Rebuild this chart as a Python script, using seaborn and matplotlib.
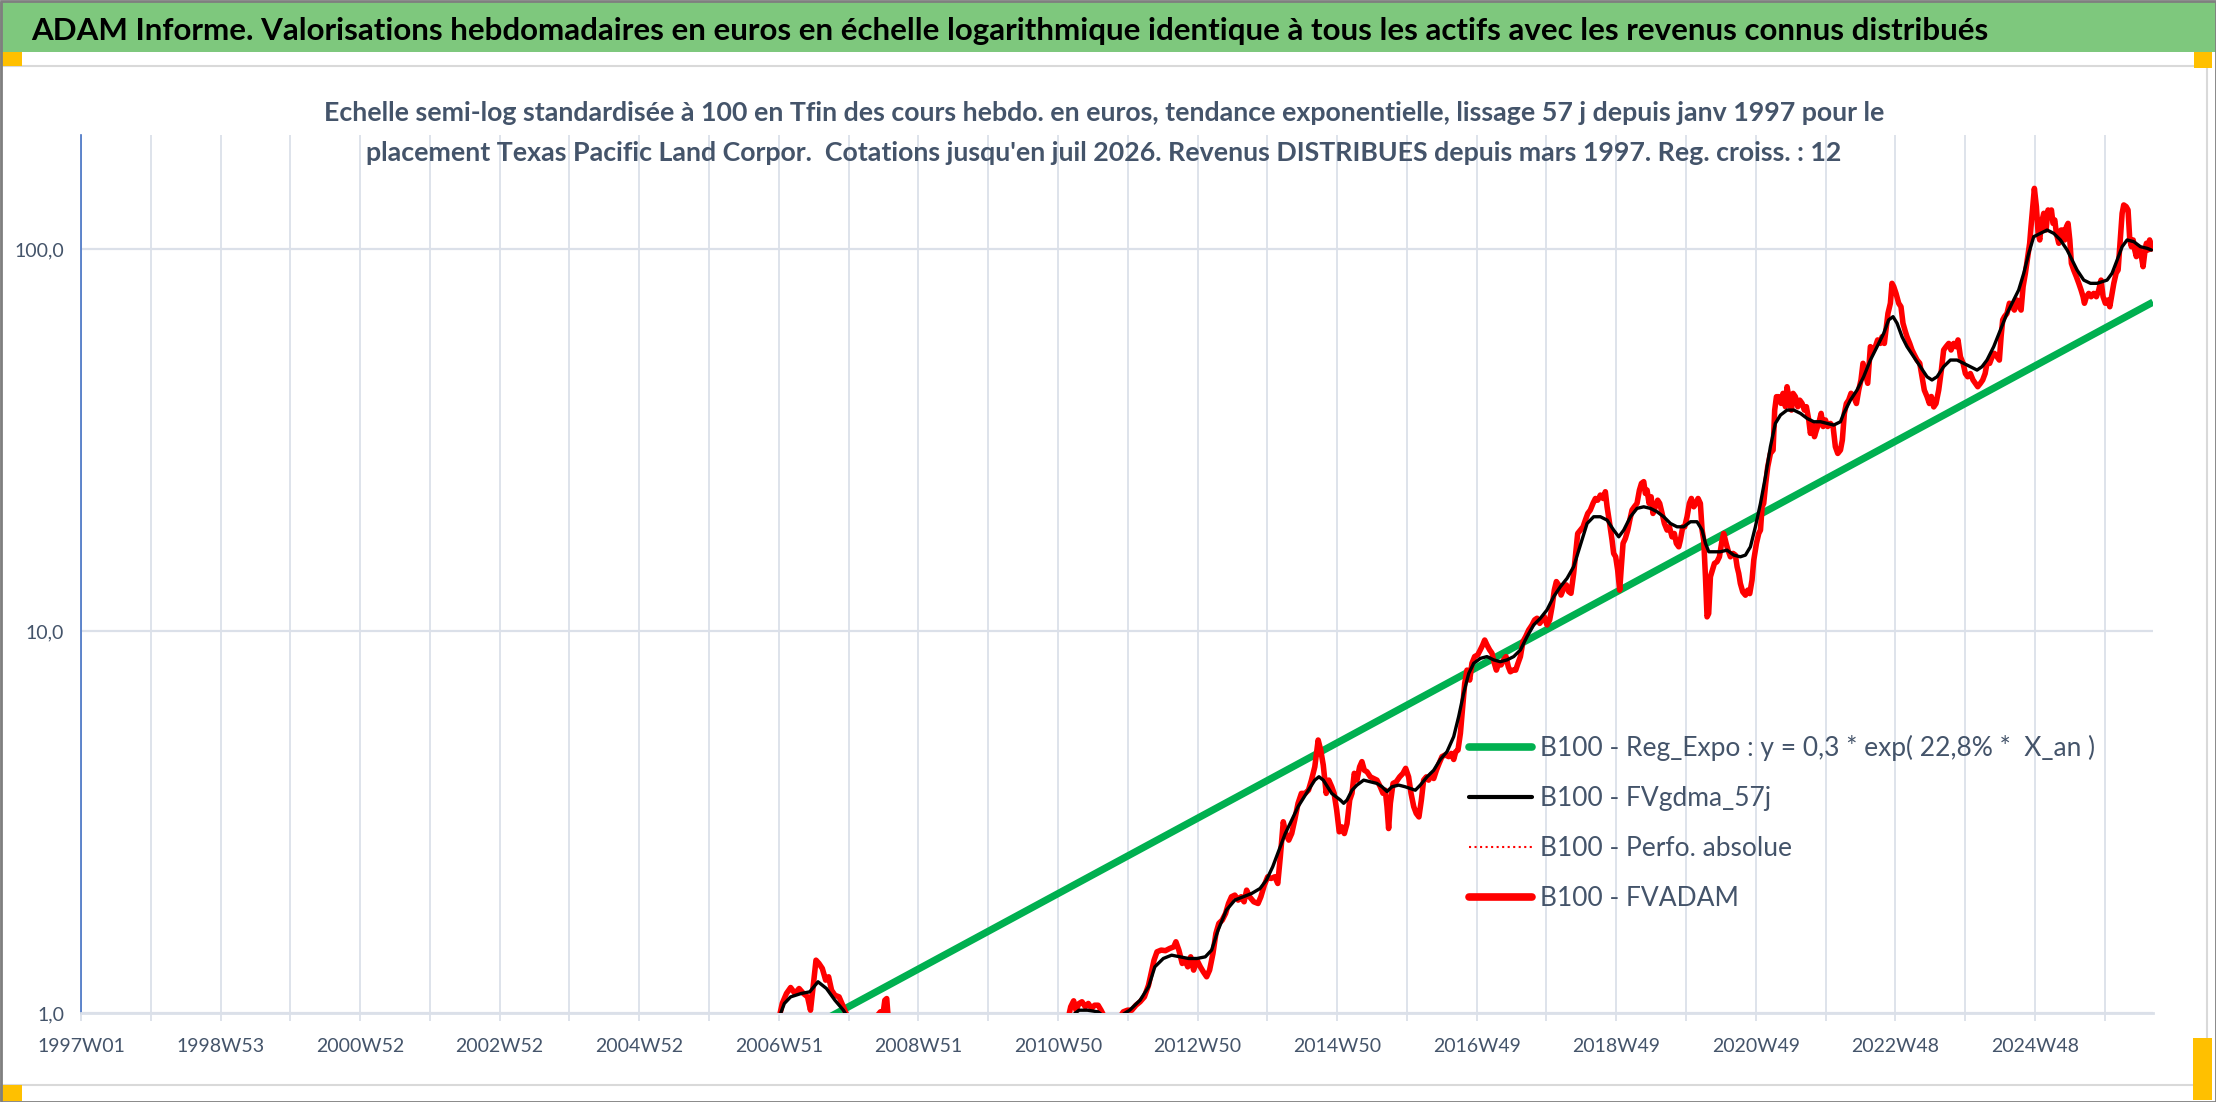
import numpy as np
import pandas as pd
import matplotlib
matplotlib.use("Agg")
import matplotlib.pyplot as plt
import seaborn as sns
from matplotlib import font_manager
from matplotlib.lines import Line2D
from matplotlib.patches import Rectangle
from matplotlib.ticker import NullLocator

# ---------------- data ----------------
TITLE = ("ADAM Informe. Valorisations hebdomadaires en euros en échelle logarithmique "
         "identique à tous les actifs avec les revenus connus distribués")
SUBTITLE_1 = ("Echelle semi-log standardisée à 100 en Tfin des cours hebdo. en euros, tendance "
              "exponentielle, lissage 57 j depuis janv 1997 pour le")
SUBTITLE_2 = ("placement Texas Pacific Land Corpor.  Cotations jusqu'en juil 2026. Revenus "
              "DISTRIBUES depuis mars 1997. Reg. croiss. : 12")

X_TICK_LABELS = ["1997W01", "1998W53", "2000W52", "2002W52", "2004W52", "2006W51",
                 "2008W51", "2010W50", "2012W50", "2014W50", "2016W49", "2018W49",
                 "2020W49", "2022W48", "2024W48"]
LAST_WEEK = 1544          # weekly index of the last quotation (juil 2026)
Y_TICKS = [1, 10, 100]
Y_TICK_LABELS = ["1,0", "10,0", "100,0"]

SERIES_NAMES = ["B100 - Reg_Expo : y = 0,3 * exp( 22,8% *  X_an )",
                "B100 - FVgdma_57j",
                "B100 - Perfo. absolue",
                "B100 - FVADAM"]

# exponential regression (straight line on the log axis) : ends of the line
REG_WEEKS = [0, 1544]
REG_VALUES = [0.0853, 72.6]

# FVADAM, weekly index / value (None = break, values under 1,0 are off the chart)
FVADAM_WEEKS = [
    521, 522.6, 525.7, 528.8, 532, 535.1, 538.3, 541.4, 543.6, 546.1, 547.7, 549.9, 552.4,
    554.9, 557.1, 559.3, 561.8, 564.9, 568.1, 571.2, None,
    593, 595.7, 597.5, 599, 600.4, 601.5, None,
    735.9, 737.5, 739.7, 741.5, 743.7, 745.9, 748.4, 750.6, 753.1, 755.3, 757.9, 760.1, 762.6, None,
    773.5, 776.7, 779.8, 783, 786.1, 789.2, 792.4, 795.5, 797.7, 799.6, 801.8, 804.9, 808.1,
    811.2, 814.3, 815.9, 818.1, 820.6, 822.8, 824.7, 826.9, 829.1, 831.6, 834.1, 836.3, 838.8,
    841, 843.5, 845.7, 847.9, 850.4, 852.9, 855.1, 857.3, 859.8, 862.3, 864.5, 866.7, 868.6,
    870.8, 873.9, 877.1, 879.2, 881.8, 884.3, 886.8, 889.6, 891.8, 893.7, 895.9, 898.1, 900,
    902.2, 904.4, 906.9, 909.4, 912.2, 914.7, 916.9, 919.4, 921.9, 923.8, 925.7, 927.9, 929.8,
    932, 933.8, 935.7, 937.6, 939.6, 941.4, 943.4, 945.4, 947.1, 948.8, 950.8, 952.8, 954.5,
    956.3, 958.3, 960.8, 963.2, 965.7, 968.2, 970.2, 971.9, 973.2, 974.4, 975.7, 977.7, 980.1,
    982.6, 985.1, 987.1, 989.3, 991.1, 993.1, 995, 997, 998.8, 1000.5, 1002.5, 1004.2, 1006,
    1008, 1010, 1012, 1014.2, 1016.7, 1019.1, 1021.1, 1022.9, 1024.4, 1026.1, 1027.9, 1029.6,
    1031.1, 1032.8, 1034.8, 1036.5, 1038.5, 1040.8, 1042.7, 1044.5, 1046, 1047.7, 1049.7,
    1051.4, 1053.2, 1054.7, 1056.4, 1058.2, 1060.1, 1061.9, 1063.6, 1065.1, 1067.1, 1069.1,
    1070.8, 1072.6, 1074.5, 1076.5, 1078.8, 1081.3, 1083.2, 1085, 1087, 1088.7, 1090.4, 1092.4,
    1094.4, 1096.2, 1097.9, 1099.4, 1101.1, 1102.9, 1104.9, 1106.9, 1108.6, 1110.3, 1112.3,
    1115.3, 1117.3, 1119.3, 1121, 1122.8, 1124.7, 1126.7, 1128.5, 1130.2, 1132.2, 1134.2,
    1135.9, 1137.2, 1139.1, 1140.9, 1142.1, 1143.6, 1145.1, 1146.6, 1147.8, 1149.1, 1150.8,
    1152.6, 1154.1, 1155.8, 1157.5, 1159.5, 1161.3, 1162.8, 1164.5, 1165.7, 1167, 1168.5, 1170,
    1171.4, 1173.2, 1174.9, 1176.4, 1178.2, 1179.9, 1181.9, 1183.6, 1185.6, 1187.3, 1188.8,
    1190.6, 1191.8, 1193.6, 1195, 1196.8, 1198.5, 1200, 1201.8, 1203.5, 1205, 1206.7, 1208,
    1209.2, 1210.5, 1211.7, 1212.9, 1214.2, 1215.7, 1217.2, 1219.1, 1220.9, 1222.9, 1224.1,
    1225.9, 1227.3, 1229.1, 1231.1, 1232.8, 1234.1, 1235.3, 1236.5, 1238.3, 1240.3, 1242,
    1243.5, 1245.2, 1246.5, 1248.5, 1250.2, 1251.5, 1252.7, 1253.9, 1255.4, 1256.9, 1258.9,
    1260.9, 1262.1, 1263.4, 1265.1, 1266.8, 1268.3, 1270.1, 1271.3, 1273.1, 1274.6, 1275.8,
    1277.5, 1279.3, 1280.8, 1282.5, 1284.2, 1285.7, 1287.5, 1288.7, 1290.5, 1291.7, 1293.2,
    1294.9, 1296.7, 1298.2, 1299.9, 1301.6, 1303.6, 1305.6, 1307.3, 1309.1, 1311.1, 1312.5,
    1314, 1315.5, 1317.2, 1319, 1321, 1323, 1324.7, 1326.4, 1327.9, 1329.7, 1331.4, 1333.4,
    1335.4, 1337.1, 1338.8, 1340.8, 1342.1, 1343.8, 1345.3, 1346.5, 1348.3, 1349.5, 1350.8,
    1352.5, 1354.5, 1356.2, 1357.7, 1359.5, 1360.7, 1362.7, 1364.4, 1366.2, 1368.2, 1370.2,
    1371.9, 1373.6, 1375.6, 1377.4, 1378.8, 1380.6, 1382.3, 1384.3, 1386.3, 1388, 1389.8,
    1391.8, 1393.5, 1395.5, 1397.2, 1398.7, 1400.5, 1402.5, 1404.2, 1405.9, 1407.9, 1409.9,
    1411.6, 1413.4, 1415.4, 1417.1, 1418.9, 1420.3, 1422.3, 1424.1, 1425.8, 1427.8, 1429.5,
    1430.8, 1432, 1433.3, 1435.2, 1437, 1439, 1440.7, 1442.7, 1444.4, 1445.7, 1447.2, 1448.9,
    1450.7, 1452.1, 1453.1, 1454.4, 1455.6, 1457.1, 1458.4, 1459.6, 1460.8, 1462.6, 1464.3,
    1465.8, 1467.1, 1468.3, 1469.5, 1470.8, 1472, 1473.8, 1475.5, 1477, 1478.2, 1479.5,
    1480.7, 1482, 1483.2, 1484.9, 1486.9, 1488.7, 1490.4, 1491.9, 1492.9, 1494.4, 1496.1,
    1497.9, 1499.8, 1501.8, 1503.6, 1505.3, 1506.8, 1508.5, 1510.3, 1511.8, 1513.5, 1514.8,
    1516.5, 1518, 1519.2, 1521, 1522.2, 1524, 1525.4, 1526.7, 1527.9, 1529.2, 1530.4, 1531.6,
    1532.9, 1534.1, 1535.4, 1536.6, 1537.8, 1539.1, 1540.3, 1541.5, 1542.8]
FVADAM_VALUES = [
    1.00, 1.06, 1.125, 1.166, 1.125, 1.159, 1.125, 1.102, 1.017, 1.219, 1.375, 1.348, 1.308,
    1.219, 1.244, 1.147, 1.113, 1.102, 1.038, 0.977, None,
    0.98, 1.007, 0.985, 1.08, 1.091, 0.97, None,
    0.977, 1.038, 1.076, 1.017, 1.059, 1.07, 1.038, 1.059, 1.027, 1.048, 1.048, 1.017, 0.977, None,
    0.967, 1.007, 1.017, 1.017, 1.048, 1.07, 1.102, 1.183, 1.282, 1.375, 1.446, 1.461, 1.456,
    1.475, 1.49, 1.536, 1.461, 1.348, 1.375, 1.321, 1.403, 1.295, 1.375, 1.321, 1.282, 1.244,
    1.295, 1.431, 1.615, 1.716, 1.75, 1.822, 1.935, 2.015, 2.035, 1.975, 2.015, 1.955, 2.097,
    2.015, 1.955, 1.935, 2.015, 2.161, 2.273, 2.25, 2.273, 2.183, 2.564, 3.167, 2.922, 2.835,
    2.951, 3.198, 3.537, 3.757, 3.757, 3.833, 4.071, 4.412, 5.183, 4.878, 4.457, 3.757, 4.071,
    3.911, 3.757, 3.397, 2.981, 3.07, 2.95, 3.13, 3.61, 3.76, 4.24, 4.07, 4.41, 4.55,
    4.32, 4.28, 4.15, 4.11, 4.07, 3.91, 3.76, 3.83, 3.47, 3.04, 3.54, 3.99, 4.03,
    4.15, 4.24, 4.37, 4.15, 3.76, 3.47, 3.33, 3.26, 3.61, 4.07, 4.15, 4.07, 4.2,
    4.11, 4.32, 4.5, 4.69, 4.74, 4.69, 4.78, 4.61, 4.83, 4.88, 5.4, 6.34,
    7.29, 7.9, 7.44, 8.23, 8.57, 8.66, 8.92, 9.19, 9.47, 9.19, 8.92,
    8.75, 8.23, 7.9, 8.23, 8.15, 8.4, 8.57, 8.06, 7.82, 7.9, 7.9,
    8.23, 8.57, 9.38, 9.66, 10.06, 10.37, 10.69, 10.8, 10.47, 10.69, 10.9, 10.37,
    10.69, 11.58, 12.81, 13.47, 13.2, 12.42, 12.94, 13.2, 12.68, 12.55, 14.16,
    18.0, 18.37, 18.74, 19.51, 20.31, 20.73, 21.58, 22.23, 22.0, 22.69, 22.23,
    23.15, 21.14, 19.12, 17.29, 15.96, 15.64, 14.43, 12.79, 14.72, 16.96, 17.47,
    18.37, 19.51, 20.73, 21.14, 21.58, 23.38, 24.34, 24.6, 22.92, 23.38, 21.58, 22.46,
    20.31, 21.14, 22.0, 21.58, 20.31, 19.12, 18.37, 18.74, 17.64, 18.0, 16.96,
    16.61, 17.29, 18.74, 18.74, 19.91, 21.58, 22.23, 21.14, 21.58, 22.23, 21.58, 18.37,
    17.29, 13.87, 10.89, 11.11, 13.87, 14.43, 15.03, 15.18, 15.64, 17.29, 18.0,
    16.96, 16.28, 15.64, 15.96, 15.8, 14.72, 14.15, 13.32, 12.66, 12.41, 12.79,
    12.53, 13.59, 15.33, 16.96, 18.0, 18.37, 21.14, 21.58, 24.34, 26.9, 29.16,
    29.76, 37.87, 41.05, 41.05, 39.43, 41.88, 38.65, 43.6, 40.2, 37.87, 41.88,
    41.05, 38.65, 40.2, 39.43, 37.87, 38.65, 35.67, 32.91, 34.95, 32.26, 33.6,
    34.95, 37.12, 34.3, 35.67, 34.3, 34.95, 34.3, 30.37, 29.16, 29.76, 31.6,
    37.1, 39.4, 40.2, 41.9, 41.1, 39.4, 42.7, 45.4, 50.2, 47.2, 44.5, 55.5,
    54.4, 55.5, 57.8, 56.6, 58.9, 56.6, 62.6, 67.8, 72.1, 81.3, 79.7,
    76.5, 72.1, 70.6, 63.9, 60.7, 58.9, 56.6, 54.4, 52.8, 51.2, 50.2,
    46.3, 42.7, 41.1, 39.4, 41.1, 38.6, 39.4, 42.7, 48.2, 54.4, 55.5,
    56.6, 54.4, 56.6, 55.5, 57.8, 52.2, 50.2, 47.2, 46.3, 47.2, 45.4,
    44.5, 43.6, 44.5, 45.4, 47.2, 50.2, 50.2, 52.2, 53.3, 52.2, 51.2,
    58.9, 65.2, 66.5, 67.8, 72.1, 70.6, 69.2, 73.5, 70.6, 69.2, 79.7, 86.4,
    95.5, 103.5, 114.4, 129.1, 144.1, 129.1, 109.9, 105.6, 116.7, 124.0, 112.1,
    126.5, 121.5, 126.5, 116.7, 119.1, 109.9, 103.5, 112.1, 112.1, 105.6, 114.4,
    116.7, 105.6, 91.7, 88.1, 84.6, 81.3, 78.1, 75.0, 72.1, 75.0, 76.5,
    75.0, 76.5, 75.0, 78.1, 82.9, 75.0, 72.1, 73.5, 70.6, 76.5, 81.3,
    86.4, 88.1, 101.4, 124.0, 130.4, 129.1, 126.5, 105.6, 101.4, 105.6, 99.4, 95.5,
    101.4, 99.4, 95.5, 89.9, 97.4, 103.5, 99.4, 105.6, 100.0]

# FVgdma_57j (smoothed) weekly index / value
GDMA_WEEKS = [
    521, 524.1, 528.8, 536.7, 543, 549.2, 555.5, 561.8, 568.1, 571.2, None,
    737.5, 743.7, 750, 757.9, 762.6, None,
    773.5, 781.4, 789.2, 795.5, 800.2, 806.5, 812.7, 819.1, 825.3, 831.6, 837.8, 842.5, 847.3,
    853.5, 859.8, 866.1, 872.4, 878.6, 883.3, 888, 892.7, 897.4, 902.2, 906.9, 913.1, 919.4,
    922.5, 925.7, 932, 938.4, 940.9, 943.4, 947.1, 950.8, 955.8, 960.8, 965.7, 969.5, 973.2,
    976.9, 981.9, 986.8, 990.6, 994.3, 998, 1003, 1008, 1012.9, 1017.9, 1022.9, 1026.6,
    1030.3, 1034.1, 1037.8, 1042.8, 1047.7, 1052.7, 1057.7, 1062.6, 1067.6, 1072.6, 1077.5,
    1082.5, 1087.5, 1092.4, 1097.4, 1102.4, 1107.4, 1112.3, 1122.3, 1127.2, 1132.2, 1137.2,
    1142.1, 1145.9, 1149.6, 1154.6, 1159.5, 1164.5, 1169.5, 1174.4, 1179.4, 1184.4, 1189.3,
    1194.3, 1199.3, 1204.2, 1208, 1210.5, 1213, 1216.7, 1221.6, 1226.6, 1231.6, 1236.5,
    1240.3, 1244, 1247.7, 1251.5, 1255.2, 1258.9, 1262.6, 1266.4, 1271.3, 1276.3, 1281.3,
    1286.2, 1291.2, 1296.2, 1301.1, 1306.1, 1311.1, 1313.5, 1318.5, 1323.4, 1328.4, 1333.4,
    1338.4, 1343.3, 1347, 1350.3, 1353.3, 1357, 1360.7, 1365.7, 1370.6, 1375.6, 1379.3,
    1383.1, 1388, 1393, 1398, 1402.9, 1407.9, 1412.9, 1416.6, 1420.3, 1425.3, 1430.3,
    1435.2, 1440.2, 1443.9, 1447.7, 1451.4, 1455.1, 1460.1, 1465.1, 1470, 1475, 1480,
    1483.7, 1487.4, 1492.4, 1497.4, 1502.3, 1506.1, 1509.8, 1513.5, 1517.3, 1521, 1524.7,
    1529.7, 1534.6, 1539.6, 1542.8]
GDMA_VALUES = [
    0.99, 1.059, 1.102, 1.125, 1.136, 1.207, 1.159, 1.08, 1.017, 0.977, None,
    0.977, 1.017, 1.017, 1.007, 0.977, None,
    0.977, 1.017, 1.08, 1.171, 1.321, 1.389, 1.417, 1.403, 1.389, 1.389, 1.403, 1.461, 1.648,
    1.859, 1.975, 2.015, 2.056, 2.118, 2.227, 2.413, 2.669, 2.951, 3.198, 3.467, 3.757, 4.071,
    4.154, 4.071, 3.757, 3.61, 3.54, 3.61, 3.83, 3.95, 4.07, 4.03, 3.99, 3.91, 3.80,
    3.91, 3.95, 3.91, 3.87, 3.83, 3.95, 4.15, 4.32, 4.61, 4.83, 5.29, 5.97,
    6.87, 7.74, 8.23, 8.48, 8.57, 8.40, 8.31, 8.40, 8.57, 8.92, 9.66,
    10.37, 10.80, 11.35, 12.30, 13.06, 13.74, 14.74, 19.12, 19.91, 19.91, 19.51,
    18.37, 17.64, 18.37, 19.91, 20.94, 21.14, 20.94, 20.52, 19.91, 19.12, 18.74,
    18.74, 19.32, 19.32, 18.37, 16.96, 16.12, 16.12, 16.12, 16.28, 15.80, 15.64,
    15.80, 16.61, 18.74, 21.58, 25.34, 30.37, 34.95, 36.75, 37.87, 37.87, 37.12,
    36.02, 35.3, 35.3, 34.95, 34.6, 35.3, 37.1, 40.2, 42.7, 46.3, 51.2,
    55.5, 60.1, 65.2, 66.5, 63.9, 58.9, 55.5, 52.2, 49.2, 46.3, 45.4,
    46.3, 49.2, 51.2, 51.2, 50.2, 49.2, 48.2, 49.2, 51.2, 55.5, 61.4,
    67.8, 73.5, 78.1, 86.4, 97.4, 107.7, 109.9, 112.1, 109.9, 105.6, 99.4,
    93.6, 88.1, 82.9, 81.3, 81.3, 82.1, 82.9, 86.4, 93.6, 101.4, 105.6,
    104.5, 101.4, 100.4, 99.4]

# ---------------- styles ----------------
GREEN = "#00b050"
RED = "#ff0000"
BLACK = "#000000"
GRID = "#dbe0e9"
TXT = "#44546a"
AXIS_BLUE = "#4472c4"

sns.set_theme(style="white")
avail = {f.name for f in font_manager.fontManager.ttflist}
FONT = "Lato" if "Lato" in avail else "DejaVu Sans"
plt.rcParams["font.family"] = [FONT, "DejaVu Sans"]

W, H = 2216, 1102
fig = plt.figure(figsize=(W / 100, H / 100), dpi=100, facecolor="white")
renderer = fig.canvas.get_renderer()


def fit(s, target_px, weight="normal", base=20.0):
    t = fig.text(0, 0, s, fontsize=base, weight=weight)
    w = t.get_window_extent(renderer=renderer).width
    t.remove()
    return base * target_px / w


# background decorations (pixel coordinates)
bg = fig.add_axes([0, 0, 1, 1], zorder=0)
bg.set_xlim(0, W)
bg.set_ylim(H, 0)
bg.axis("off")
bg.add_patch(Rectangle((0, 2), W, 50, color="#7ec87d", lw=0))
bg.add_patch(Rectangle((1, 66), 2206, 1019, fill=False, ec="#d9d9d9", lw=1.5))
for (x, y, w, h) in [(0, 52, 22, 14), (2194, 52, 18, 16), (0, 1085, 22, 16), (2193, 1038, 19, 62)]:
    bg.add_patch(Rectangle((x, y), w, h, color="#ffc000", lw=0))
bg.add_patch(Rectangle((0.5, 0.5), W - 1, H - 1, fill=False, ec="#7f7f7f", lw=2))

# titles
fs_title = fit(TITLE, 1955, "bold")
fig.text(31 / W, 1 - 40 / H, TITLE, fontsize=fs_title, weight="bold", color="black",
         ha="left", va="baseline")
fs_sub = fit(SUBTITLE_1, 1567, "bold")
fig.text(1104 / W, 1 - 121 / H, SUBTITLE_1, fontsize=fs_sub, weight="bold", color=TXT,
         ha="center", va="baseline")
fig.text(1104 / W, 1 - 161 / H, SUBTITLE_2, fontsize=fs_sub, weight="bold", color=TXT,
         ha="center", va="baseline")

# main axes
ax = fig.add_axes([81 / W, 1 - 1013 / H, (2153 - 81) / W, (1013 - 135) / H], zorder=2)
ax.set_facecolor("none")


def frame(weeks, values):
    df = pd.DataFrame({"week": pd.to_numeric(pd.Series(weeks, dtype=object), errors="coerce"),
                       "value": pd.to_numeric(pd.Series(values, dtype=object), errors="coerce")})
    df["seg"] = df["value"].isna().cumsum()
    return df.dropna()


reg = pd.DataFrame({"week": REG_WEEKS, "value": REG_VALUES})
fvadam = frame(FVADAM_WEEKS, FVADAM_VALUES)
gdma = frame(GDMA_WEEKS, GDMA_VALUES)

sns.lineplot(data=reg, x="week", y="value", color=GREEN, lw=5.2, ax=ax, legend=False,
             solid_capstyle="butt", zorder=3)
sns.lineplot(data=fvadam, x="week", y="value", units="seg", estimator=None, sort=False,
             color=RED, lw=1.2, ls=":", ax=ax, legend=False, zorder=3.5)
sns.lineplot(data=fvadam, x="week", y="value", units="seg", estimator=None, sort=False,
             color=RED, lw=4.0, ax=ax, legend=False, zorder=4, solid_joinstyle="round")
sns.lineplot(data=gdma, x="week", y="value", units="seg", estimator=None, sort=False,
             color=BLACK, lw=2.4, ax=ax, legend=False, zorder=5)

ax.set_yscale("log")
ax.set_ylim(1, 10 ** 2.2984)
ax.set_xlim(0, LAST_WEEK)
ax.set_xlabel("")
ax.set_ylabel("")

fs_tick = fit("1997W01", 88)
ax.set_xticks(np.arange(len(X_TICK_LABELS)) * 104)
ax.set_xticklabels(X_TICK_LABELS)
ax.set_xticks(np.arange(52, LAST_WEEK - 30, 104), minor=True)
ax.set_yticks(Y_TICKS)
ax.set_yticklabels(Y_TICK_LABELS)
ax.yaxis.set_minor_locator(NullLocator())
ax.tick_params(axis="x", which="both", direction="out", length=6, width=1.3, color=GRID,
               labelsize=fs_tick, labelcolor=TXT, pad=12, bottom=True)
ax.tick_params(axis="y", which="both", length=0, labelsize=fs_tick, labelcolor=TXT, pad=12,
               left=True)
ax.grid(True, axis="x", which="both", color=GRID, lw=1.3)
ax.grid(True, axis="y", which="major", color=GRID, lw=1.6)
ax.set_axisbelow(True)
for side in ["top", "right"]:
    ax.spines[side].set_visible(False)
ax.spines["left"].set_color(AXIS_BLUE)
ax.spines["left"].set_linewidth(1.2)
ax.spines["bottom"].set_color(GRID)
ax.spines["bottom"].set_linewidth(2)

# legend
fs_leg = fit(SERIES_NAMES[0], 555)
fpx = fs_leg * 100 / 72
t = fig.text(0, 0, "B100 - FVADAM", fontsize=fs_leg)
row_h = t.get_window_extent(renderer=renderer).height
t.remove()
handles = [Line2D([], [], color=GREEN, lw=5.5),
           Line2D([], [], color=BLACK, lw=3.0),
           Line2D([], [], color=RED, lw=1.5, ls=":"),
           Line2D([], [], color=RED, lw=5.5)]
ax.legend(handles, SERIES_NAMES, loc="center left",
          bbox_to_anchor=(1469 / W, 1 - 823 / H), bbox_transform=fig.transFigure,
          frameon=False, labelcolor=TXT, borderpad=0, borderaxespad=0, fontsize=fs_leg,
          handlelength=63 / fpx, handletextpad=8 / fpx,
          labelspacing=max(0.0, (50 - row_h) / fpx))

fig.savefig("out.png", dpi=100, facecolor="white")
